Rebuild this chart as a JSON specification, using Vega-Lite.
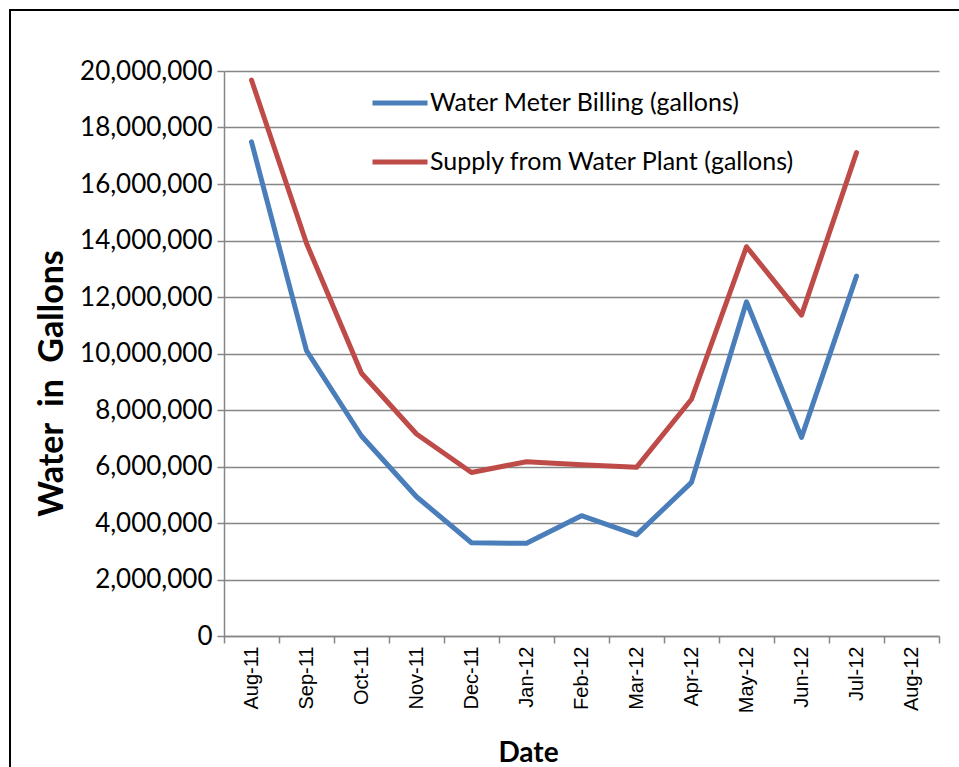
{
  "$schema": "https://vega.github.io/schema/vega-lite/v6.json",
  "width": 960,
  "height": 770,
  "autosize": {"type": "none"},
  "padding": {"left": 10, "top": 10, "right": 0, "bottom": 0},
  "background": "white",
  "config": {"view": {"stroke": "black", "strokeWidth": 2}},
  "data": {
    "values": [
      {"month": "Aug-11", "series": "Water Meter Billing (gallons)", "gallons": 17490000},
      {"month": "Sep-11", "series": "Water Meter Billing (gallons)", "gallons": 10100000},
      {"month": "Oct-11", "series": "Water Meter Billing (gallons)", "gallons": 7080000},
      {"month": "Nov-11", "series": "Water Meter Billing (gallons)", "gallons": 4930000},
      {"month": "Dec-11", "series": "Water Meter Billing (gallons)", "gallons": 3300000},
      {"month": "Jan-12", "series": "Water Meter Billing (gallons)", "gallons": 3280000},
      {"month": "Feb-12", "series": "Water Meter Billing (gallons)", "gallons": 4260000},
      {"month": "Mar-12", "series": "Water Meter Billing (gallons)", "gallons": 3580000},
      {"month": "Apr-12", "series": "Water Meter Billing (gallons)", "gallons": 5440000},
      {"month": "May-12", "series": "Water Meter Billing (gallons)", "gallons": 11830000},
      {"month": "Jun-12", "series": "Water Meter Billing (gallons)", "gallons": 7030000},
      {"month": "Jul-12", "series": "Water Meter Billing (gallons)", "gallons": 12740000},
      {"month": "Aug-11", "series": "Supply from Water Plant (gallons)", "gallons": 19680000},
      {"month": "Sep-11", "series": "Supply from Water Plant (gallons)", "gallons": 13900000},
      {"month": "Oct-11", "series": "Supply from Water Plant (gallons)", "gallons": 9300000},
      {"month": "Nov-11", "series": "Supply from Water Plant (gallons)", "gallons": 7150000},
      {"month": "Dec-11", "series": "Supply from Water Plant (gallons)", "gallons": 5790000},
      {"month": "Jan-12", "series": "Supply from Water Plant (gallons)", "gallons": 6170000},
      {"month": "Feb-12", "series": "Supply from Water Plant (gallons)", "gallons": 6060000},
      {"month": "Mar-12", "series": "Supply from Water Plant (gallons)", "gallons": 5970000},
      {"month": "Apr-12", "series": "Supply from Water Plant (gallons)", "gallons": 8380000},
      {"month": "May-12", "series": "Supply from Water Plant (gallons)", "gallons": 13780000},
      {"month": "Jun-12", "series": "Supply from Water Plant (gallons)", "gallons": 11360000},
      {"month": "Jul-12", "series": "Supply from Water Plant (gallons)", "gallons": 17110000}
    ]
  },
  "mark": {"type": "line", "strokeWidth": 5, "strokeCap": "round", "strokeJoin": "round"},
  "encoding": {
    "x": {
      "field": "month",
      "type": "ordinal",
      "sort": null,
      "bandPosition": 0.5,
      "scale": {
        "type": "band",
        "domain": ["Aug-11", "Sep-11", "Oct-11", "Nov-11", "Dec-11", "Jan-12", "Feb-12", "Mar-12", "Apr-12", "May-12", "Jun-12", "Jul-12", "Aug-12"],
        "range": [214, 929],
        "paddingInner": 0,
        "paddingOuter": 0
      },
      "axis": {
        "title": "Date",
        "titleFont": "Lato",
        "titleFontWeight": "bold",
        "titleFontSize": 28,
        "titleColor": "black",
        "titleX": 518,
        "titleY": 125,
        "titleBaseline": "alphabetic",
        "titleAlign": "center",
        "labelAngle": -90,
        "labelAlign": "right",
        "labelBaseline": "middle",
        "labelFont": "Liberation Sans",
        "labelFontSize": 20,
        "labelColor": "black",
        "labelPadding": 3,
        "labelOverlap": false,
        "labelBound": false,
        "tickBand": "extent",
        "tickSize": 7,
        "tickColor": "#868686",
        "tickWidth": 1.5,
        "domainColor": "#868686",
        "domainWidth": 1.5,
        "grid": false,
        "offset": -144
      }
    },
    "y": {
      "field": "gallons",
      "type": "quantitative",
      "scale": {"domain": [0, 20000000], "range": [626, 61], "nice": false},
      "axis": {
        "title": "Water\u00a0 in\u00a0 Gallons",
        "titleFont": "Lato",
        "titleFontSize": 34,
        "titleFontWeight": "bold",
        "titleColor": "black",
        "titleAngle": -90,
        "titleX": -172,
        "titleY": 373,
        "titleBaseline": "middle",
        "titleAlign": "center",
        "format": ",d",
        "values": [0, 2000000, 4000000, 6000000, 8000000, 10000000, 12000000, 14000000, 16000000, 18000000, 20000000],
        "labelFont": "Lato",
        "labelFontSize": 26,
        "labelColor": "black",
        "labelPadding": 5,
        "tickSize": 7,
        "tickColor": "#868686",
        "tickWidth": 1.5,
        "grid": true,
        "gridColor": "#868686",
        "gridWidth": 1.5,
        "domainColor": "#868686",
        "domainWidth": 1.5,
        "offset": -214
      }
    },
    "color": {
      "field": "series",
      "type": "nominal",
      "scale": {
        "domain": ["Water Meter Billing (gallons)", "Supply from Water Plant (gallons)"],
        "range": ["#4A7EBB", "#BE4B48"]
      },
      "legend": {
        "orient": "none",
        "legendX": 360,
        "legendY": 63,
        "title": null,
        "symbolType": "stroke",
        "symbolSize": 3025,
        "symbolStrokeWidth": 5,
        "labelFont": "Lato",
        "labelFontSize": 25,
        "labelColor": "black",
        "labelOffset": 0,
        "labelLimit": 0,
        "rowPadding": 16,
        "padding": 0
      }
    }
  }
}
